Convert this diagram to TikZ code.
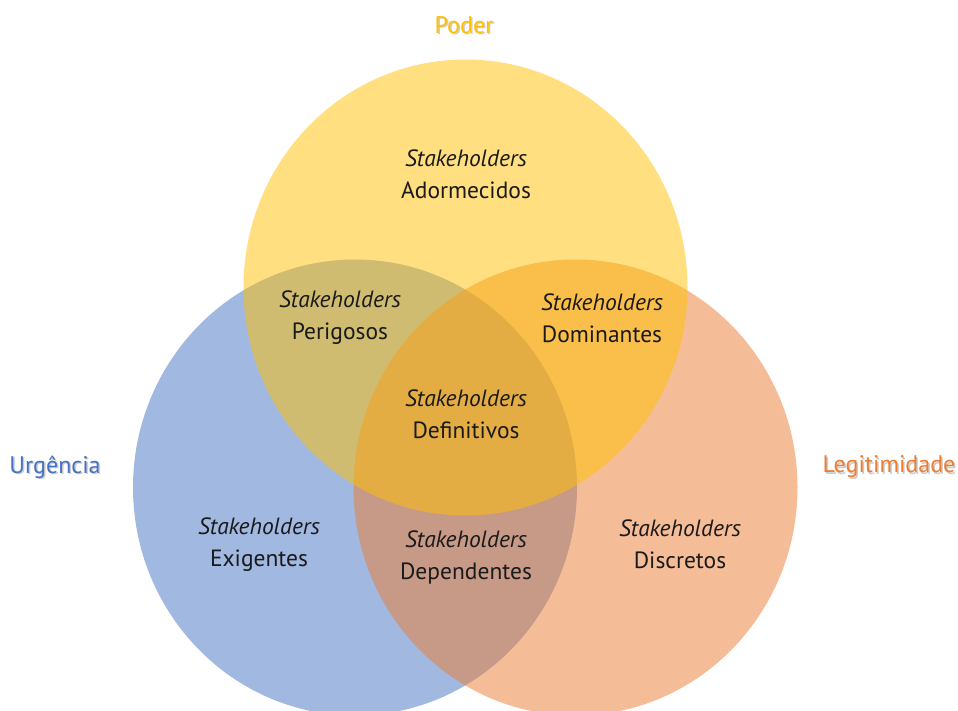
\documentclass[tikz,border=0pt]{standalone}
\usepackage{fontspec}
\setmainfont{PT Sans}
\definecolor{gold}{HTML}{FFC000}
\definecolor{urgblue}{HTML}{4472C4}
\definecolor{legorange}{HTML}{ED7D31}
\definecolor{inktext}{HTML}{1A1A1A}
\begin{document}
\begin{tikzpicture}[x=1pt,y=-1pt,
  venn/.style={fill opacity=0.5},
  lbl/.style={font=\fontsize{23.5}{32}\selectfont, text=inktext, align=center, inner sep=0pt},
  title/.style={font=\fontsize{24}{28}\selectfont, inner sep=0pt},
  shadowtext/.style={title, text=black, opacity=0.2}]
\clip (0,0) rectangle (958,711);
\fill[white] (0,0) rectangle (958,711);

% the three sets: Urgência, Legitimidade, Poder (drawn in this order)
\fill[urgblue, venn]   (355,487.5) ellipse [x radius=222, y radius=228];
\fill[legorange, venn] (575.5,487.5) ellipse [x radius=222, y radius=228];
\fill[gold, venn]      (465.5,287.5) ellipse [x radius=222, y radius=228];

% set titles with a soft drop shadow
\node[shadowtext] (poder-s) at (465.5,26.5) {Poder};
\node[title, text=gold] (poder) at (464,25) {Poder};
\node[shadowtext] (urg-s) at (56.5,468.5) {Urgência};
\node[title, text=urgblue] (urg) at (55,467) {Urgência};
\node[shadowtext] (leg-s) at (890.5,468.5) {Legitimidade};
\node[title, text=legorange] (leg) at (889,467) {Legitimidade};

% region labels
\node[lbl] (adorm) at (466,174) {\textit{Stakeholders}\\Adormecidos};
\node[lbl] (perig) at (340,318) {\textit{Stakeholders}\\Perigosos};
\node[lbl] (domin) at (602,318) {\textit{Stakeholders}\\Dominantes};
\node[lbl] (defin) at (466,414) {\textit{Stakeholders}\\Definitivos};
\node[lbl] (exig)  at (259,544.5) {\textit{Stakeholders}\\Exigentes};
\node[lbl] (depen) at (466,557) {\textit{Stakeholders}\\Dependentes};
\node[lbl] (discr) at (680,544.5) {\textit{Stakeholders}\\Discretos};
\end{tikzpicture}
\end{document}
